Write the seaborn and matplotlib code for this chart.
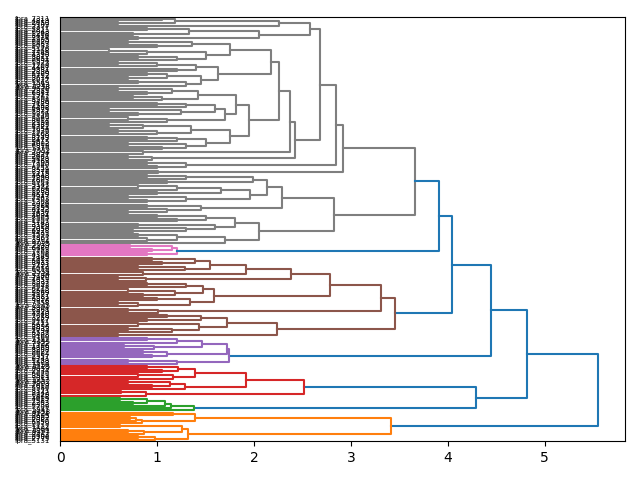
import pandas as pd
import seaborn as sns
import matplotlib.pyplot as plt

# Dendrogram subtrees, written top to bottom as "(upper,lower)height", x = one leaf
ORANGE = "(((x,x)1.16,(((x,x)0.72,x)0.78,x)0.84)1.39,(((x,x)0.62,((x,x)0.7,x)0.86)1.26,((x,x)0.8,x)0.98)1.32)3.41"
GREEN = "(((((x,x)0.62,(x,x)0.75)0.9,x)1.08,x)1.14,x)1.38"
RED = "(((((x,x)0.9,(x,x)1.05)1.22,((x,x)0.8,x)1.16)1.39,(((x,x)0.7,(x,x)0.95)1.13,x)1.29)1.92,((x,x)0.63,x)0.89)2.52"
PURPLE = "(((((x,x)0.9,x)1.21,((x,x)0.66,x)0.97)1.46,((x,x)0.85,(x,x)0.95)1.1)1.72,((x,x)0.7,x)1.2)1.74"
PINK = "(((x,x)0.72,(x,x)0.95)1.15,(x,x)0.9)1.2"

B155 = "(((x,x)0.95,(x,x)1.05)1.39,((x,x)0.8,x)1.29)1.55"
B159 = "((((x,x)0.9,x)1.3,((x,x)0.7,(x,x)0.85)1.18)1.47,((x,x)1.0,((x,x)0.6,x)0.8)1.34)1.59"
B224 = "((((x,x)1.1,(x,x)0.9)1.45,((x,x)0.8,((x,x)0.7,x)1.15)1.43)1.72,(x,x)0.6)2.24"
B238 = "((" + B155 + ",(x,x)0.85)1.92,((x,x)0.6,x)0.88)2.38"
BROWN = "(((" + B238 + "," + B159 + ")2.78,((x,x)0.7,x)1.01)3.31," + B224 + ")3.45"

G258 = "((((x,x)1.05,(x,x)0.6)1.18,x)2.26,(((x,x)0.9,(x,x)0.75)1.33,(x,x)0.8)2.05)2.58"
G175 = "(((x,x)0.7,(x,x)1.0)1.36,(((x,x)0.5,x)0.9,((x,x)0.8,x)1.2)1.5)1.75"
G163 = "((((x,x)0.6,x)1.0,(x,x)1.2)1.4,(((x,x)0.9,(x,x)0.7)1.1,((x,x)0.8,x)1.3)1.45)1.63"
G181 = "((((x,x)0.6,(x,x)0.9)1.15,((x,x)0.75,x)1.05)1.42,((((x,x)1.0,x)1.3,((x,x)0.5,(x,x)0.8)1.25)1.6,((x,x)0.7,x)1.1)1.7)1.81"
G175B = "((((x,x)0.5,x)0.85,((x,x)0.6,x)1.0)1.35,(((x,x)0.9,x)1.2,((x,x)0.7,(x,x)1.05)1.3)1.5)1.75"
G229 = "(((((x,x)0.9,x)1.3,(x,x)1.1)1.99,((((x,x)0.8,x)1.2,(x,x)1.0)1.66,((x,x)0.7,(x,x)0.9)1.3)1.96)2.13,((x,x)0.9,(x,(x,x)0.7)1.1)1.45)2.29"
G205 = "((((x,x)1.0,(x,x)1.2)1.5,((x,x)0.8,(x,(x,x)0.75)1.3)1.6)1.8,(((x,x)0.8,(x,x)0.9)1.2,x)1.7)2.05"
G226 = "((" + G175 + "," + G163 + ")2.18,(" + G181 + "," + G175B + ")1.95)2.26"
G292 = "(((" + G258 + ",((" + G226 + ",(x,x)0.85)2.37,((x,x)0.7,x)0.95)2.42)2.68,((x,x)0.9,(x,x)1.0)1.3)2.85,(x,x)1.01)2.92"
GRAY = "(" + G292 + ",(" + G229 + "," + G205 + ")2.83)3.66"

TOP = "((((({gray},{pink})3.91,{brown})4.04,{purple})4.44,({red},{green})4.29)4.82,{orange})5.55"

LEAF_IDS = """
7311 4819 2650 9102 3377 5821 6043 1298 8456 2714
3905 6620 1487 9033 5176 2268 7745 4390 8812 3051
6594 1923 7208 4467 9381 2836 5109 6752 3614 8027
1549 7093 4258 9670 2385 6841 5317 1762 8904 3486
7129 2593 6408 4975 1831 9256 3740 5062 8617 2199
6385 4721 1054 7936 3268 5590 8143 2477 9615 4002
6819 1376 7552 3094 5837 2661 9428 4183 7705 1940
6251 3529 8376 1115 4648 7290 2803 5961 9147 3372
6706 1685 8230 4519 2947 7463 5308 1026 9784 3855
6172 2490 7631 4094 8565 1207 5743 3180 9319 2056
6928 4431 1593 7867 3302 8714 5025 2339 6480 9251
1768 4306 7145 2982 5617 8433 3791 1412 6059 9538
2724 5186 7970 4651 1337 8092 3643 6215 2508 9869
4177 1081 6392 3916 7558 2245 5804 8361 1629 4740
7018 3259 9487 2111 5672 8896 4033 1794 6537 3408
9160 2782 5455 7322 1196 4869 8208 3027 6684 2357
9741 5238 1503 7416 4125 8659 2934 6070 3581 9013
1257 4592 7803 2619 5986 8371 3142 6829 1468 4015
7587 2263 9332 5709 1841 4458 8124 3695 6962 2087
5350 9579 1122 7684 4241 8917 3463 6306 2775 5131
""".split()

TAB10 = ["#1f77b4", "#ff7f0e", "#2ca02c", "#d62728", "#9467bd",
         "#8c564b", "#e377c2", "#7f7f7f", "#bcbd22", "#17becf"]


def parse(s, i=0):
    if s[i] == "x":
        return {"leaf": True}, i + 1
    left, i = parse(s, i + 1)
    right, i = parse(s, i + 1)
    i += 1
    j = i
    while j < len(s) and (s[j].isdigit() or s[j] == "."):
        j += 1
    return {"leaf": False, "h": float(s[i:j]), "kids": [left, right]}, j


tree_str = TOP.format(gray=GRAY, pink=PINK, brown=BROWN, purple=PURPLE,
                      red=RED, green=GREEN, orange=ORANGE)
root, _ = parse(tree_str)
n_leaves = tree_str.count("x")
labels = ["fpra_" + i for i in LEAF_IDS[:n_leaves]]
threshold = 0.7 * root["h"]

# cluster colours, counted from the bottom leaf upwards like scipy
count = [0]


def paint(node, c):
    if node["leaf"]:
        return
    if node["h"] >= threshold:
        node["c"] = TAB10[0]
        c = None
    else:
        if c is None:
            c = TAB10[1 + count[0] % 9]
            count[0] += 1
        node["c"] = c
    for kid in reversed(node["kids"]):
        paint(kid, c)


paint(root, None)

leaf_y = []
rows = []


def place(node):
    if node["leaf"]:
        y = 10 * n_leaves - 5 - 10 * len(leaf_y)
        leaf_y.append(y)
        return 0.0, y
    (x1, y1), (x2, y2) = place(node["kids"][0]), place(node["kids"][1])
    h = node["h"]
    link = len(rows)
    for px, py in [(x1, y1), (h, y1), (h, y2), (x2, y2)]:
        rows.append({"x": px, "y": py, "link": link, "color": node["c"]})
    return h, (y1 + y2) / 2


place(root)
df = pd.DataFrame(rows)

fig, ax = plt.subplots(figsize=(6.4, 4.8), dpi=100)
sns.lineplot(data=df, x="x", y="y", units="link", hue="color",
             palette={c: c for c in df["color"].unique()},
             estimator=None, sort=False, legend=False, linewidth=1.5, ax=ax)

ax.set_xlim(0, root["h"] * 1.05)
ax.set_ylim(0, 10 * n_leaves)
ax.set_yticks(leaf_y)
ax.set_yticklabels(labels, fontsize=5)
for line in ax.get_yticklines():
    line.set_visible(False)
ax.set_xlabel("")
ax.set_ylabel("")

plt.tight_layout()
plt.savefig("out.png")
